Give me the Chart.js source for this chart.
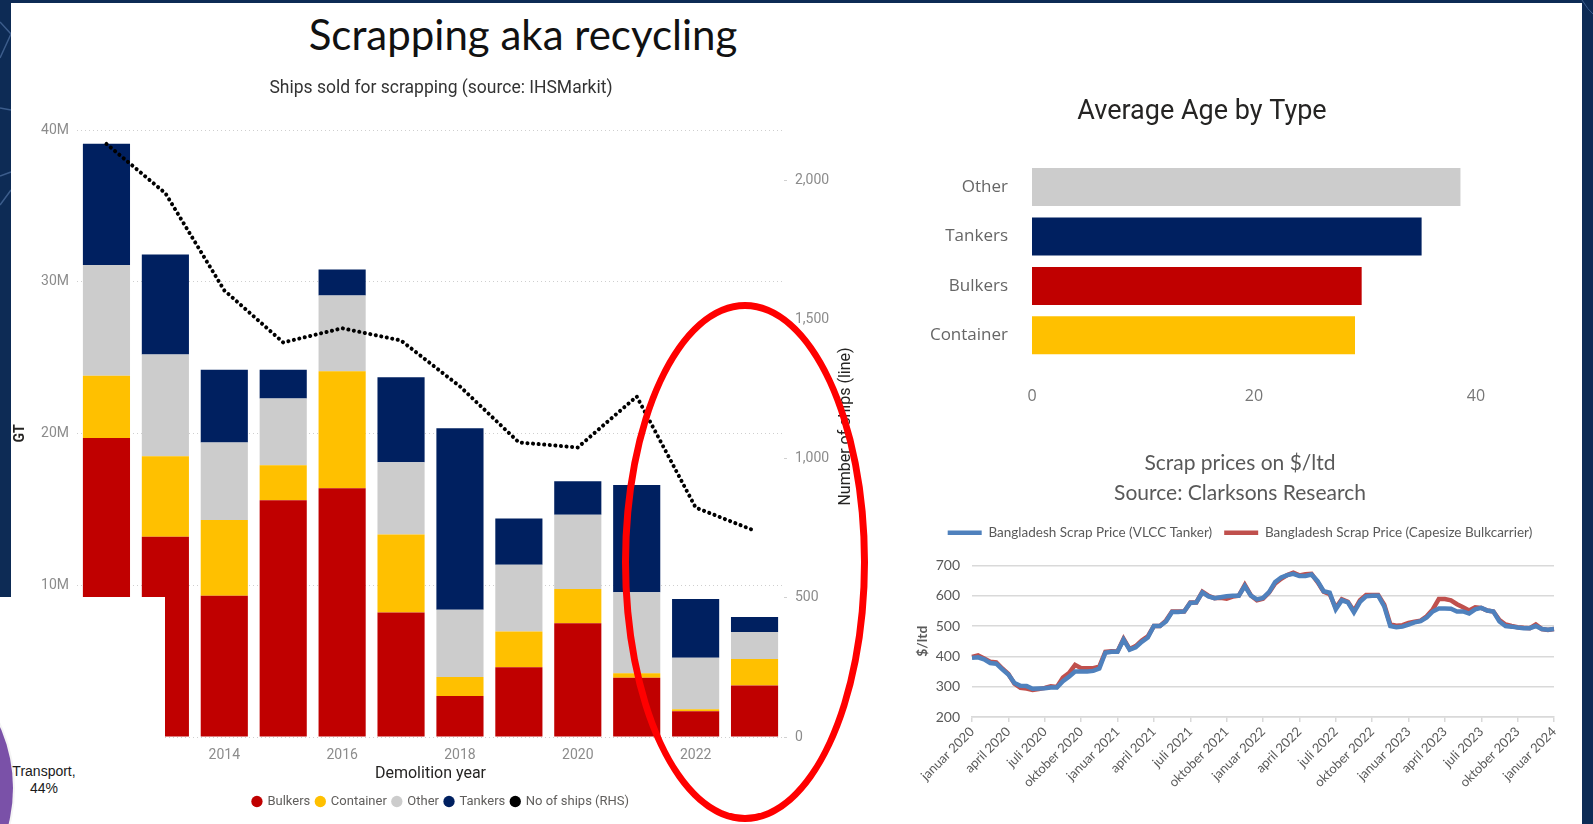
<!DOCTYPE html>
<html>
<head>
<meta charset="utf-8">
<script src="https://cdn.jsdelivr.net/npm/chart.js@4.4.1/dist/chart.umd.min.js"></script>
<style>
  html, body { margin: 0; padding: 0; }
  body { width: 1593px; height: 824px; background: #0d2b55; position: relative; overflow: hidden; font-family: Roboto, sans-serif; }
  #deco { position: absolute; left: 0; top: 0; }
  #panel { position: absolute; left: 11px; top: 3px; width: 1571px; height: 821px; background: #fff; }
  #mainTitle { position: absolute; left: 0; top: 9px; width: 1046px; text-align: center; font: 42px Lato, sans-serif; color: #111; }
  .wrap { position: absolute; }
  #scrapWrap { left: 11px; top: 70px; width: 860px; height: 754px; }
  #ageWrap { left: 862px; top: 80px; width: 680px; height: 340px; }
  #priceWrap { left: 890px; top: 440px; width: 700px; height: 384px; }
  #patch { position: absolute; left: 0; top: 597px; width: 165px; height: 227px; background: #fff; overflow: hidden; }
  #pie { position: absolute; left: -287px; top: 41px; width: 300px; height: 300px; border-radius: 50%; background: #7a51a8; box-shadow: 0 0 0 2px #f4f4f4; }
  #pieLabel { position: absolute; left: 0; top: 166px; width: 88px; text-align: center; font: 14px "Liberation Sans", Arial, sans-serif; line-height: 17px; color: #1a1a1a; }
  #ring { position: absolute; left: 622px; top: 302px; width: 246px; height: 520px; box-sizing: border-box; border: 7px solid #ff0000; border-radius: 50%; }
</style>
</head>
<body>
<svg id="deco" width="1593" height="824">
  <path d="M0 22 L11 34 L0 58" stroke="#3c5d8c" stroke-width="1.5" fill="none"/>
  <path d="M0 108 L11 110" stroke="#3c5d8c" stroke-width="1.5" fill="none"/>
  <path d="M0 176 L11 172 M0 205 L11 190" stroke="#3c5d8c" stroke-width="1.5" fill="none"/>
  <path d="M1582 0 Q1588 10 1593 14" stroke="#3c5d8c" stroke-width="1" fill="none"/>
</svg>
<div id="panel"></div>
<div id="mainTitle">Scrapping aka recycling</div>
<div class="wrap" id="scrapWrap"><canvas id="scrapChart"></canvas></div>
<div class="wrap" id="ageWrap"><canvas id="ageChart"></canvas></div>
<div class="wrap" id="priceWrap"><canvas id="priceChart"></canvas></div>
<div id="patch"><div id="pie"></div><div id="pieLabel">Transport,<br>44%</div></div>
<div id="ring"></div>

<script>
// ships sold for scrapping, GT in millions
const years = ['2012', '2013', '2014', '2015', '2016', '2017', '2018', '2019', '2020', '2021', '2022', '2023'];
const bulkers = [19.7, 13.2, 9.3, 15.6, 16.4, 8.2, 2.7, 4.6, 7.5, 3.9, 1.7, 3.4];
const container = [4.1, 5.3, 5.0, 2.3, 7.7, 5.15, 1.25, 2.35, 2.25, 0.3, 0.13, 1.74];
const other = [7.3, 6.7, 5.1, 4.4, 5.0, 4.75, 4.43, 4.4, 4.9, 5.34, 3.4, 1.78];
const tankers = [8.0, 6.6, 4.8, 1.9, 1.7, 5.6, 11.97, 3.05, 2.2, 7.06, 3.87, 0.98];
const shipCount = [2130, 1953, 1604, 1417, 1468, 1424, 1259, 1058, 1040, 1223, 824, 741];
const gtTicks = [0, 10, 20, 30, 40];
const shipTicks = [0, 500, 1000, 1500, 2000];

// average age by type
const ageTypes = ['Other', 'Tankers', 'Bulkers', 'Container'];
const avgAge = [38.6, 35.1, 29.7, 29.1];

// scrap prices, half-monthly from jan 2020 to jan 2024
const priceTickLabels = ['januar 2020', 'april 2020', 'juli 2020', 'oktober 2020', 'januar 2021', 'april 2021', 'juli 2021', 'oktober 2021',
  'januar 2022', 'april 2022', 'juli 2022', 'oktober 2022', 'januar 2023', 'april 2023', 'juli 2023', 'oktober 2023', 'januar 2024'];
const vlccPrice = [
  395, 397, 390, 378, 376, 357, 340, 312, 303, 302,
  293, 294, 295, 297, 297, 318, 333, 350, 350, 350,
  352, 360, 412, 415, 415, 455, 422, 430, 448, 462,
  500, 500, 515, 546, 546, 548, 576, 578, 611, 598,
  592, 595, 598, 600, 600, 632, 600, 588, 593, 612,
  645, 660, 668, 672, 665, 665, 670, 648, 615, 610,
  555, 585, 578, 545, 580, 598, 600, 600, 565, 500,
  496, 498, 505, 512, 516, 528, 548, 558, 558, 557,
  548, 548, 541, 555, 560, 551, 548, 515, 500, 498,
  495, 493, 493, 500, 490, 488, 490];
const capePrice = [
  398, 403, 393, 382, 380, 360, 342, 310, 296, 294,
  289, 292, 296, 301, 299, 330, 345, 372, 361, 361,
  361, 366, 415, 417, 416, 458, 424, 434, 452, 466,
  500, 500, 518, 548, 548, 548, 578, 578, 613, 600,
  592, 593, 590, 597, 600, 636, 601, 585, 590, 610,
  640, 656, 668, 676, 667, 671, 672, 645, 613, 605,
  560, 588, 580, 550, 585, 602, 602, 602, 570, 505,
  501, 503, 510, 514, 518, 532, 555, 589, 589, 585,
  572, 562, 551, 562, 560, 551, 548, 520, 505, 500,
  496, 494, 493, 505, 490, 487, 490];

const COLORS = { bulkers: '#c00000', container: '#ffc000', other: '#cccccc', tankers: '#002060' };
const pbGray = '#8c8c8c';

Chart.defaults.animation = false;
Chart.defaults.font.family = 'Roboto, sans-serif';

const rightAxisTitle = {
  id: 'rightAxisTitle',
  afterDraw(chart) {
    const { ctx, chartArea } = chart;
    ctx.save();
    ctx.translate(chartArea.right + 62, (chartArea.top + chartArea.bottom) / 2 - 7);
    ctx.rotate(-Math.PI / 2);
    ctx.font = '16px Roboto, sans-serif';
    ctx.fillStyle = '#252423';
    ctx.textAlign = 'center';
    ctx.textBaseline = 'middle';
    ctx.fillText('Number of ships (line)', 0, 0);
    ctx.restore();
  }
};

// moves the title / legend sideways without touching the plot area
function shiftBlocks(dx, extraLegendHeight = 0) {
  return {
    id: 'shiftBlocks',
    beforeInit(chart) {
      [chart.titleBlock, chart.legend].forEach(b => {
        if (!b) return;
        const draw = b.draw.bind(b);
        b.draw = function (area) { const c = this.ctx; c.save(); c.translate(dx, 0); draw(area); c.restore(); };
      });
      if (extraLegendHeight && chart.legend) {
        const fit = chart.legend.fit;
        chart.legend.fit = function () { fit.call(this); this.height += extraLegendHeight; };
      }
    }
  };
}

function barSet(label, data, color) {
  return { type: 'bar', label, data, backgroundColor: color, borderWidth: 0, yAxisID: 'y', order: 1,
    categoryPercentage: 1, barPercentage: 0.8 };
}

new Chart(document.getElementById('scrapChart'), {
  data: {
    labels: years,
    datasets: [
      barSet('Bulkers', bulkers, COLORS.bulkers),
      barSet('Container', container, COLORS.container),
      barSet('Other', other, COLORS.other),
      barSet('Tankers', tankers, COLORS.tankers),
      { type: 'line', label: 'No of ships (RHS)', data: shipCount, yAxisID: 'y1', order: 0,
        borderColor: '#000', backgroundColor: '#000', borderWidth: 4, borderDash: [0.1, 5.5], borderCapStyle: 'round',
        pointRadius: 0, tension: 0 }
    ]
  },
  options: {
    responsive: true, maintainAspectRatio: false,
    layout: { padding: { left: 0, right: 0, top: 0, bottom: 6 } },
    plugins: {
      title: { display: true, text: 'Ships sold for scrapping (source: IHSMarkit)', color: '#333',
        font: { size: 17.5, weight: 'normal' }, padding: { top: 8, bottom: 31 } },
      legend: { position: 'bottom',
        labels: { usePointStyle: true, boxHeight: 8, boxWidth: 8, padding: 6, color: '#605e5c', font: { size: 13 },
          sort: (a, b) => a.datasetIndex - b.datasetIndex,
          generateLabels: chart => Chart.defaults.plugins.legend.labels.generateLabels(chart).map(l =>
            Object.assign(l, { pointStyle: 'circle', lineWidth: 0, lineDash: [], strokeStyle: l.fillStyle })) } },
      tooltip: { enabled: false }
    },
    scales: {
      x: { stacked: true, grid: { display: false }, border: { display: false },
        ticks: { color: pbGray, font: { size: 14 }, padding: 2, autoSkip: false, maxRotation: 0,
          callback(v, i) { return i % 2 === 0 ? this.getLabelForValue(v) : null; } },
        title: { display: true, text: 'Demolition year', color: '#252423', font: { size: 16 }, padding: { top: 0, bottom: 5 } },
        afterFit(s) { s.height = 52; } },
      y: { stacked: true, position: 'left', min: 0, max: 40,
        grid: { color: '#cfcfcf', lineWidth: 1, drawTicks: false }, border: { display: false, dash: [1, 3] },
        afterBuildTicks(s) { s.ticks = gtTicks.map(value => ({ value })); },
        ticks: { color: pbGray, font: { size: 14 }, padding: 8, callback: v => v + 'M' },
        title: { display: true, text: 'GT', color: '#252423', font: { size: 14, weight: 'bold' }, padding: { top: 1, bottom: 0 } },
        afterFit(s) { s.width = 66; } },
      y1: { position: 'right', min: 0, max: 2180,
        grid: { drawOnChartArea: false, color: '#d0d0d0', tickLength: 3 }, border: { display: false },
        afterBuildTicks(s) { s.ticks = shipTicks.map(value => ({ value })); },
        ticks: { color: pbGray, font: { size: 14 }, padding: 8, callback: v => v.toLocaleString('en-US') },
        afterFit(s) { s.width = 87; } }
    }
  },
  plugins: [rightAxisTitle]
});

new Chart(document.getElementById('ageChart'), {
  type: 'bar',
  data: {
    labels: ageTypes,
    datasets: [{ label: 'Average Age', data: avgAge, borderWidth: 0,
      backgroundColor: [COLORS.other, COLORS.tankers, COLORS.bulkers, COLORS.container],
      categoryPercentage: 1, barPercentage: 0.77 }]
  },
  options: {
    indexAxis: 'y', responsive: true, maintainAspectRatio: false,
    layout: { padding: { left: 0, right: 66, top: 0, bottom: 0 } },
    plugins: {
      title: { display: true, text: 'Average Age by Type', color: '#252423', font: { size: 27, weight: 'normal' }, padding: { top: 16, bottom: 34 } },
      legend: { display: false }, tooltip: { enabled: false }
    },
    scales: {
      x: { min: 0, max: 40, grid: { display: false }, border: { display: false },
        ticks: { stepSize: 20, color: '#777', font: { family: 'Open Sans, sans-serif', size: 16 }, padding: 19 },
        afterFit(s) { s.height = 60; } },
      y: { grid: { display: false }, border: { display: false },
        ticks: { color: '#666', font: { family: 'Open Sans, sans-serif', size: 17 }, padding: 16 },
        afterFit(s) { s.width = 170; } }
    }
  },
  plugins: [shiftBlocks(33)]
});

const priceLabels = vlccPrice.map((_, i) => (i % 6 === 0 ? priceTickLabels[i / 6] : ''));
const xlGray = '#595959';

new Chart(document.getElementById('priceChart'), {
  type: 'line',
  data: {
    labels: priceLabels,
    datasets: [
      { label: 'Bangladesh Scrap Price (VLCC Tanker)', data: vlccPrice, borderColor: '#4f81bd', backgroundColor: '#4f81bd',
        borderWidth: 4.5, pointRadius: 0, tension: 0 },
      { label: 'Bangladesh Scrap Price (Capesize Bulkcarrier)', data: capePrice, borderColor: '#c0504d', backgroundColor: '#c0504d',
        borderWidth: 4.5, pointRadius: 0, tension: 0 }
    ]
  },
  options: {
    responsive: true, maintainAspectRatio: false,
    layout: { padding: { left: 0, right: 36, top: 0, bottom: 0 } },
    plugins: {
      title: { display: true, text: ['Scrap prices on $/ltd', 'Source: Clarksons Research'], color: xlGray,
        font: { family: 'Lato, sans-serif', size: 21, weight: 'normal', lineHeight: 1.45 }, padding: { top: 8, bottom: 5 } },
      legend: { position: 'top',
        labels: { usePointStyle: true, pointStyle: 'line', pointStyleWidth: 34, padding: 12, color: xlGray,
          font: { family: 'Lato, sans-serif', size: 13.5 } } },
      tooltip: { enabled: false }
    },
    scales: {
      x: { grid: { drawOnChartArea: false, color: '#d9d9d9', lineWidth: 1.5, tickLength: 5 },
        border: { display: true, color: '#d9d9d9', width: 1.5 },
        ticks: { autoSkip: false, maxRotation: 45, minRotation: 45, color: xlGray, padding: 2,
          font: { family: 'Lato, sans-serif', size: 13 },
          callback(v) { const l = this.getLabelForValue(v); return l ? l : null; } },
        afterFit(s) { s.height = 107; } },
      y: { min: 200, max: 700,
        grid: { color: '#d9d9d9', lineWidth: 1.5, drawTicks: false }, border: { display: false },
        ticks: { stepSize: 50, color: xlGray, padding: 12, font: { family: 'Lato, sans-serif', size: 14 } },
        title: { display: true, text: '$/ltd', color: xlGray, font: { family: 'Lato, sans-serif', size: 14, weight: 'bold' },
          padding: { top: 24, bottom: 0 } },
        afterFit(s) { s.width = 82; } }
    }
  },
  plugins: [shiftBlocks(18, 16)]
});
</script>
</body>
</html>
